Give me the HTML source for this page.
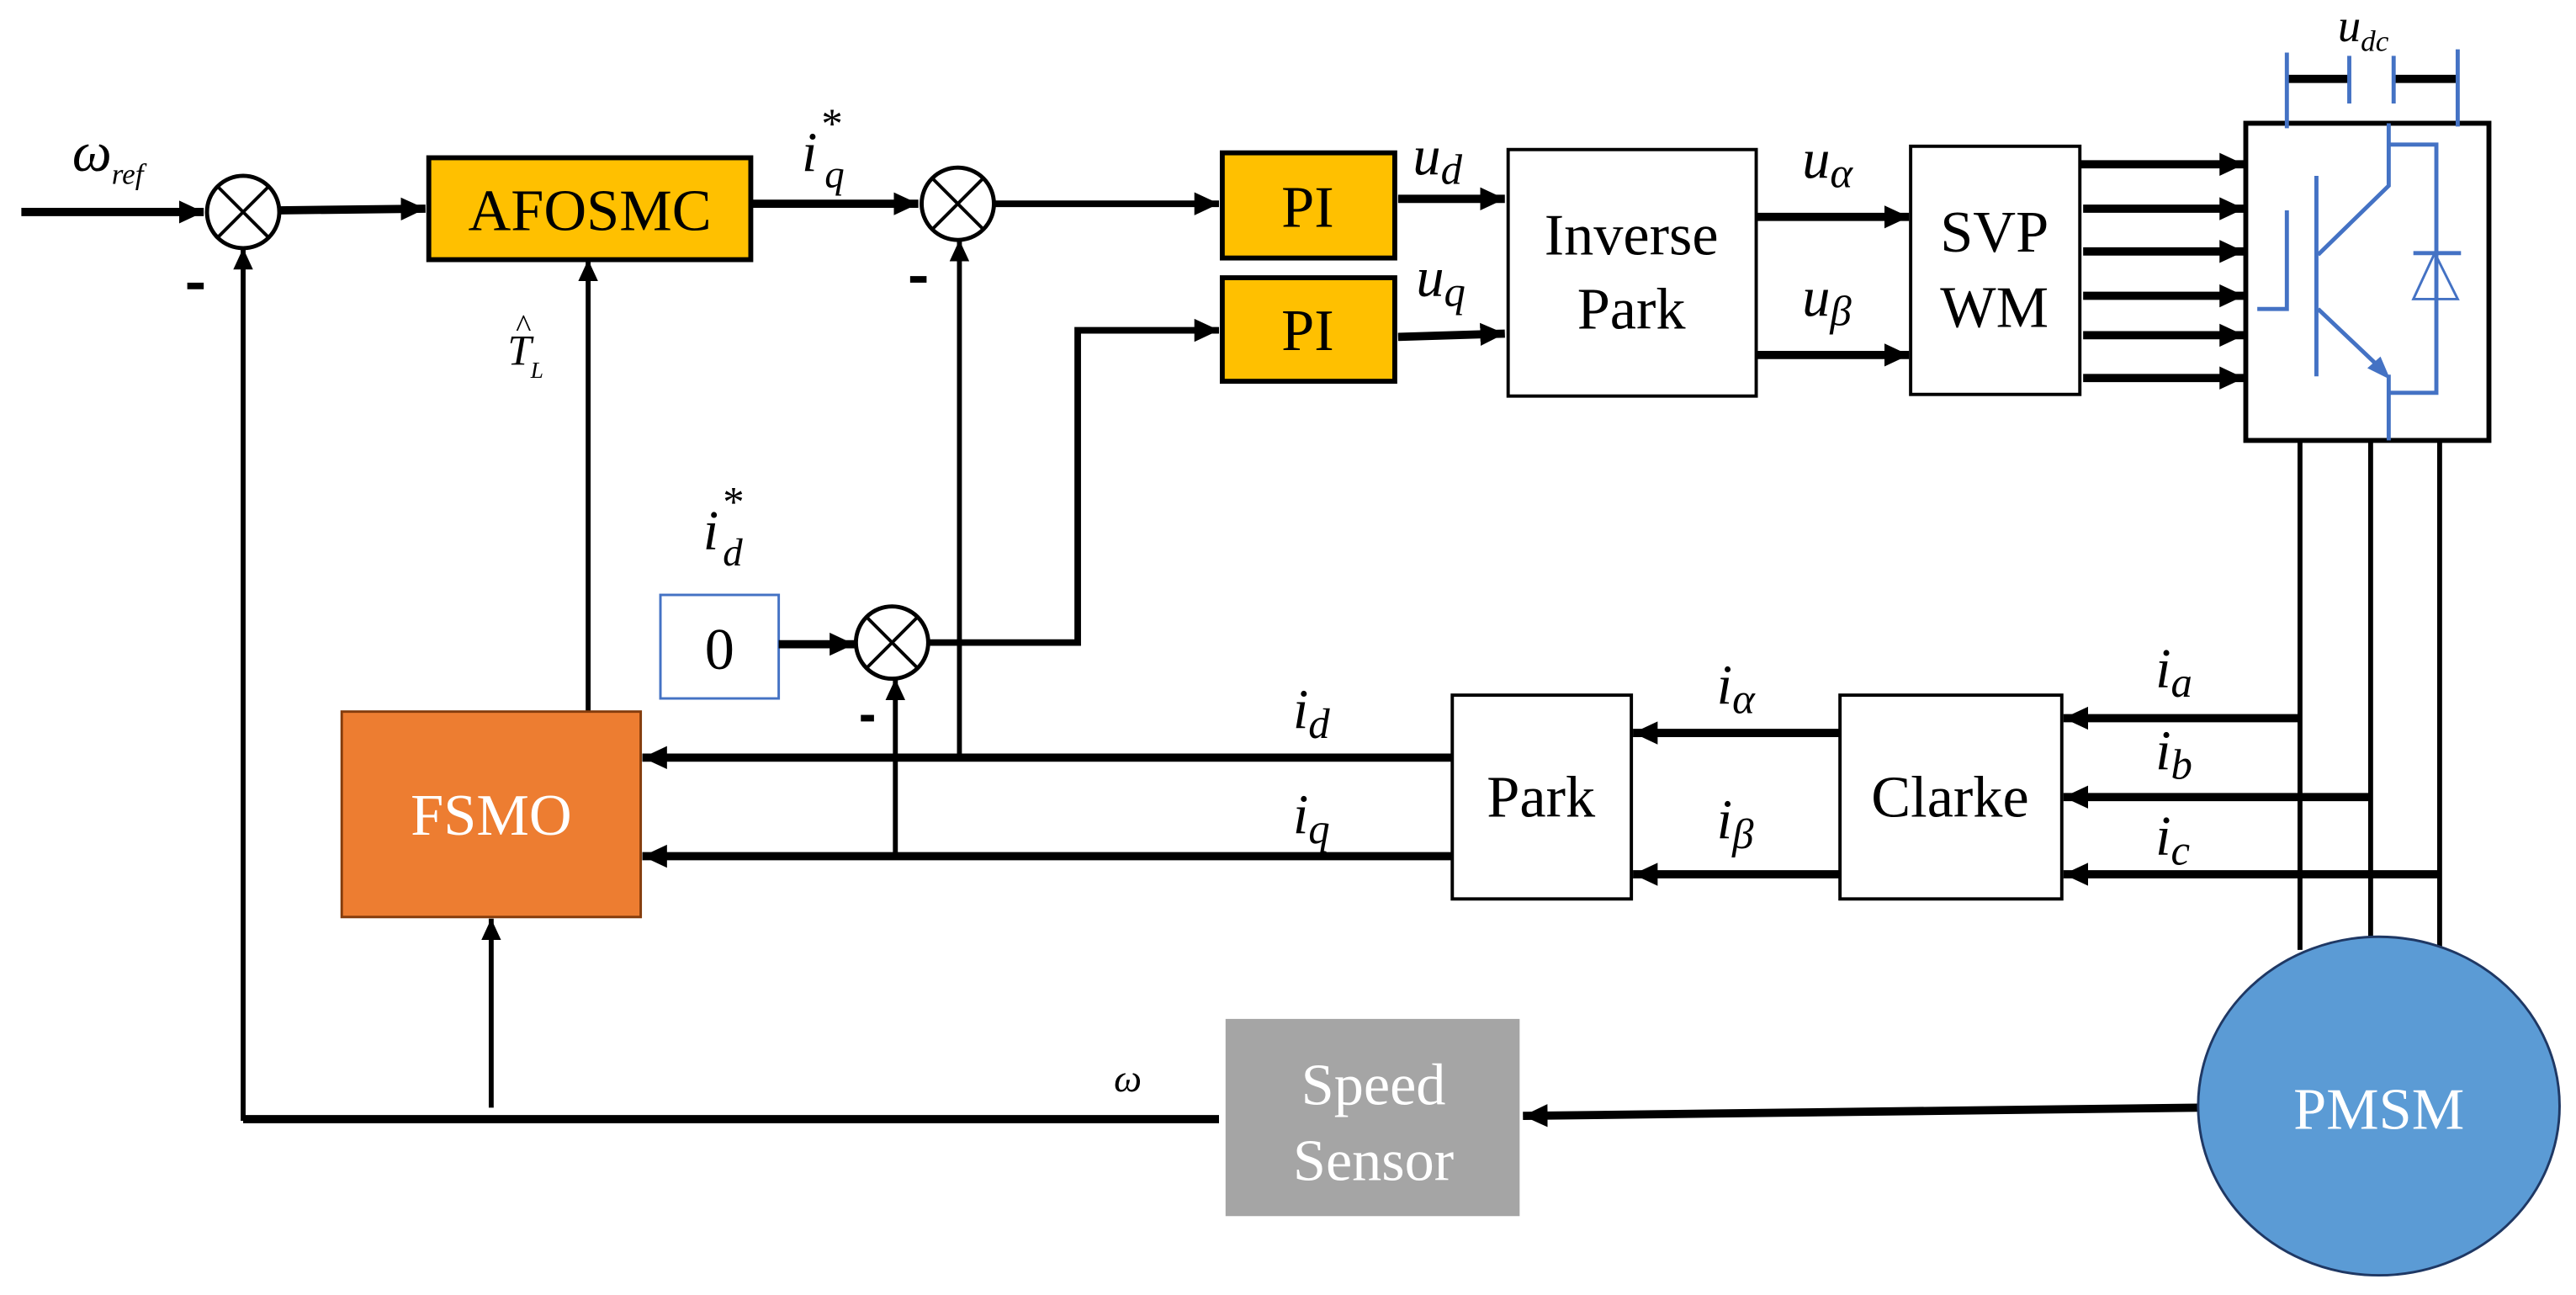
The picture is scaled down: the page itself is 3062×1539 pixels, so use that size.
<!DOCTYPE html>
<html><head><meta charset="utf-8"><style>
html,body{margin:0;padding:0;background:#fff;}
svg{display:block;}
text{font-family:"Liberation Serif",serif;}
.it{font-style:italic;}
</style></head><body>
<svg width="3062" height="1539" viewBox="0 0 1568 788" preserveAspectRatio="none" xmlns="http://www.w3.org/2000/svg">
<defs>
<marker id="a" markerUnits="userSpaceOnUse" markerWidth="16" markerHeight="16" refX="15" refY="8" orient="auto"><path d="M0,1 L15,8 L0,15 Z" fill="#000"/></marker>
<marker id="s" markerUnits="userSpaceOnUse" markerWidth="14" markerHeight="14" refX="13" refY="7" orient="auto"><path d="M0,1 L13,7 L0,13 Z" fill="#000"/></marker>
</defs>
<g fill="none" stroke="#000">
<!-- input -->
<line x1="13" y1="129" x2="124" y2="129" stroke-width="5" marker-end="url(#a)"/>
<circle cx="148" cy="129" r="22" stroke-width="2.5" fill="#fff"/>
<line x1="132" y1="113" x2="164" y2="145" stroke-width="2"/><line x1="164" y1="113" x2="132" y2="145" stroke-width="2"/>
<line x1="170" y1="128" x2="259" y2="127" stroke-width="5" marker-end="url(#a)"/>
<!-- AFOSMC -->
<rect x="261" y="96" width="196" height="62" fill="#FFC000" stroke-width="3"/>
<line x1="457" y1="124" x2="559" y2="124" stroke-width="5" marker-end="url(#a)"/>
<circle cx="583" cy="124" r="22" stroke-width="2.5" fill="#fff"/>
<line x1="567" y1="108" x2="599" y2="140" stroke-width="2"/><line x1="599" y1="108" x2="567" y2="140" stroke-width="2"/>
<line x1="605" y1="124" x2="742" y2="124" stroke-width="4" marker-end="url(#a)"/>
<!-- PI boxes -->
<rect x="744" y="93" width="105" height="64" fill="#FFC000" stroke-width="3"/>
<rect x="744" y="169" width="105" height="63" fill="#FFC000" stroke-width="3"/>
<line x1="851" y1="121" x2="916" y2="121" stroke-width="5" marker-end="url(#a)"/>
<line x1="851" y1="205" x2="916" y2="203" stroke-width="5" marker-end="url(#a)"/>
<rect x="918" y="91" width="151" height="150" fill="#fff" stroke-width="2"/>
<line x1="1069" y1="132" x2="1162" y2="132" stroke-width="5" marker-end="url(#a)"/>
<line x1="1069" y1="216" x2="1162" y2="216" stroke-width="5" marker-end="url(#a)"/>
<rect x="1163" y="89" width="103" height="151" fill="#fff" stroke-width="2"/>
<line x1="1266" y1="100" x2="1366" y2="100" stroke-width="5" marker-end="url(#a)"/>
<line x1="1268" y1="127" x2="1366" y2="127" stroke-width="5" marker-end="url(#a)"/>
<line x1="1268" y1="153" x2="1366" y2="153" stroke-width="5" marker-end="url(#a)"/>
<line x1="1268" y1="180" x2="1366" y2="180" stroke-width="5" marker-end="url(#a)"/>
<line x1="1268" y1="204" x2="1366" y2="204" stroke-width="5" marker-end="url(#a)"/>
<line x1="1268" y1="230" x2="1366" y2="230" stroke-width="5" marker-end="url(#a)"/>
<!-- inverter -->
<rect x="1367" y="75" width="148" height="193" fill="#fff" stroke-width="3"/>
<line x1="1393" y1="48" x2="1429" y2="48" stroke-width="5"/>
<line x1="1458" y1="48" x2="1496" y2="48" stroke-width="5"/>
<line x1="1400" y1="268" x2="1400" y2="578" stroke-width="3"/>
<line x1="1443" y1="268" x2="1443" y2="572" stroke-width="3"/>
<line x1="1485" y1="268" x2="1485" y2="580" stroke-width="3"/>
</g>
<g fill="none" stroke="#4472C4" stroke-width="2.5">
<line x1="1392" y1="32" x2="1392" y2="78"/>
<line x1="1430" y1="34" x2="1430" y2="63"/>
<line x1="1457" y1="34" x2="1457" y2="63"/>
<line x1="1496" y1="30" x2="1496" y2="77"/>
<polyline points="1454,75 1454,113 1411,155"/>
<line x1="1410" y1="107" x2="1410" y2="229"/>
<polyline points="1392,128 1392,188 1374,188"/>
<line x1="1411" y1="188" x2="1450" y2="225"/>
<polyline points="1454,228 1454,268"/>
<polyline points="1454,88 1483,88 1483,239 1454,239"/>
<line x1="1469" y1="154" x2="1498" y2="154"/>
<polygon points="1469,182 1496,182 1482,154" stroke-width="1.5"/>
</g>
<polygon points="1455,231 1441,224 1449,217" fill="#4472C4"/>
<g fill="none" stroke="#000">
<!-- feedback lines -->
<line x1="148" y1="682" x2="148" y2="151" stroke-width="3" marker-end="url(#s)"/>
<line x1="358" y1="433" x2="358" y2="158" stroke-width="3" marker-end="url(#s)"/>
<line x1="584" y1="461" x2="584" y2="146" stroke-width="3" marker-end="url(#s)"/>
<line x1="545" y1="521" x2="545" y2="413" stroke-width="3" marker-end="url(#s)"/>
<!-- 0 box and circle -->
<rect x="402" y="362" width="72" height="63" fill="#fff" stroke="#4472C4" stroke-width="1.5"/>
<line x1="474" y1="392" x2="520" y2="392" stroke-width="5" marker-end="url(#a)"/>
<circle cx="543" cy="391" r="22" stroke-width="2.5" fill="#fff"/>
<line x1="527" y1="375" x2="559" y2="407" stroke-width="2"/><line x1="559" y1="375" x2="527" y2="407" stroke-width="2"/>
<polyline points="565,391 656,391 656,201 742,201" stroke-width="4" marker-end="url(#a)"/>
<!-- FSMO -->
<rect x="208" y="433" width="182" height="125" fill="#ED7D31" stroke="#843C0C" stroke-width="1.5"/>
<line x1="884" y1="461" x2="391" y2="461" stroke-width="5" marker-end="url(#a)"/>
<line x1="884" y1="521" x2="391" y2="521" stroke-width="5" marker-end="url(#a)"/>
<rect x="884" y="423" width="109" height="124" fill="#fff" stroke-width="2"/>
<rect x="1120" y="423" width="135" height="124" fill="#fff" stroke-width="2"/>
<line x1="1120" y1="446" x2="994" y2="446" stroke-width="5" marker-end="url(#a)"/>
<line x1="1120" y1="532" x2="994" y2="532" stroke-width="5" marker-end="url(#a)"/>
<line x1="1400" y1="437" x2="1256" y2="437" stroke-width="5" marker-end="url(#a)"/>
<line x1="1443" y1="485" x2="1256" y2="485" stroke-width="5" marker-end="url(#a)"/>
<line x1="1485" y1="532" x2="1256" y2="532" stroke-width="5" marker-end="url(#a)"/>
<!-- speed path -->
<line x1="299" y1="674" x2="299" y2="559" stroke-width="3" marker-end="url(#s)"/>
<polyline points="742,681 148,681" stroke-width="5"/>
<line x1="1338" y1="674" x2="927" y2="679" stroke-width="5" marker-end="url(#a)"/>
</g>
<rect x="746" y="620" width="179" height="120" fill="#A5A5A5"/>
<ellipse cx="1448" cy="673" rx="110" ry="103" fill="#5B9BD5" stroke="#1F3864" stroke-width="1.5"/>
<!-- text -->
<g font-size="36" text-anchor="middle" fill="#000">
<text x="359" y="140">AFOSMC</text>
<text x="796" y="138">PI</text>
<text x="796" y="213">PI</text>
<text x="993" y="155">Inverse</text>
<text x="993" y="200">Park</text>
<text x="1214" y="153">SVP</text>
<text x="1214" y="199">WM</text>
<text x="438" y="407">0</text>
<text x="938" y="497">Park</text>
<text x="1187" y="497">Clarke</text>
<text x="299" y="508" fill="#fff">FSMO</text>
<text x="836" y="672" fill="#fff">Speed</text>
<text x="836" y="718" fill="#fff">Sensor</text>
<text x="1448" y="687" fill="#fff">PMSM</text>
</g>
<g font-size="34" fill="#000" class="it">
<text x="44" y="104">ω<tspan font-size="18" dy="8">ref</tspan></text>
<text x="488" y="104">i</text><text x="500" y="84" font-size="26" font-style="normal">*</text><text x="502" y="114" font-size="24">q</text>
<text x="428" y="334">i</text><text x="440" y="314" font-size="26" font-style="normal">*</text><text x="440" y="344" font-size="24">d</text>
<text x="309" y="222" font-size="26">T</text><text x="314" y="205" font-size="20" font-style="normal">^</text><text x="323" y="230" font-size="14">L</text>
<text x="860" y="106">u<tspan font-size="26" dy="6">d</tspan></text>
<text x="862" y="180">u<tspan font-size="26" dy="6">q</tspan></text>
<text x="1097" y="108">u<tspan font-size="26" dy="6">α</tspan></text>
<text x="1097" y="192">u<tspan font-size="26" dy="6">β</tspan></text>
<text x="1423" y="25" font-size="28">u<tspan font-size="18" dy="6">dc</tspan></text>
<text x="787" y="443">i<tspan font-size="26" dy="6">d</tspan></text>
<text x="787" y="507">i<tspan font-size="26" dy="6">q</tspan></text>
<text x="1045" y="428">i<tspan font-size="26" dy="6">α</tspan></text>
<text x="1045" y="510">i<tspan font-size="26" dy="6">β</tspan></text>
<text x="1312" y="418">i<tspan font-size="26" dy="6">a</tspan></text>
<text x="1312" y="468">i<tspan font-size="26" dy="6">b</tspan></text>
<text x="1312" y="520">i<tspan font-size="26" dy="6">c</tspan></text>
<text x="678" y="664" font-size="24">ω</text>
</g>
<g fill="#000">
<rect x="114" y="172" width="10" height="4"/>
<rect x="554" y="168" width="10" height="4"/>
<rect x="524" y="435" width="8" height="4"/>
</g>
</svg>
</body></html>
